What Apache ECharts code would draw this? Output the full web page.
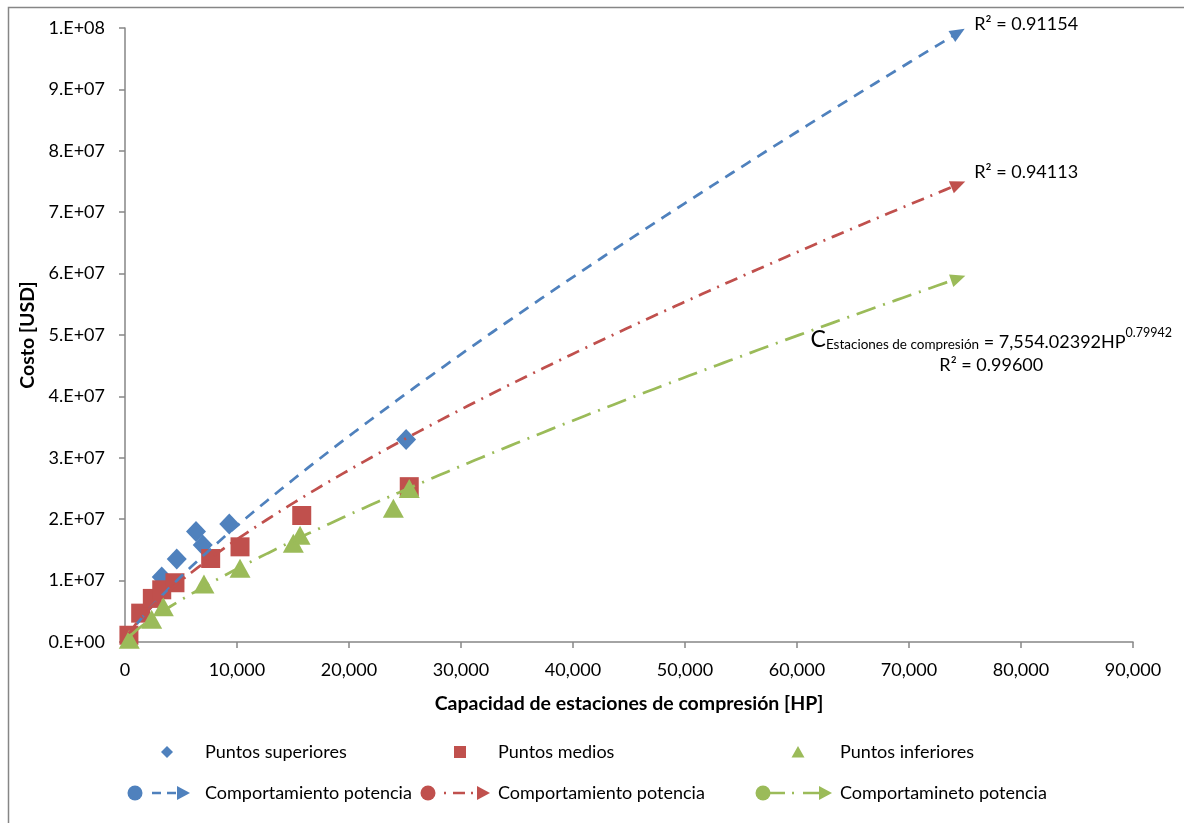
<!DOCTYPE html>
<html lang="es">
<head>
<meta charset="utf-8">
<title>Costo de estaciones de compresión</title>
<script src="https://cdn.jsdelivr.net/npm/echarts@6/dist/echarts.min.js"></script>
<style>
  html, body { margin: 0; padding: 0; background: #ffffff; }
  #chart { width: 1184px; height: 823px; }
</style>
</head>
<body>
<div id="chart"></div>
<script>
// Axis tick labels
const xTickLabels = ['0', '10,000', '20,000', '30,000', '40,000', '50,000', '60,000', '70,000', '80,000', '90,000'];
const yTickLabels = ['0.E+00', '1.E+07', '2.E+07', '3.E+07', '4.E+07', '5.E+07', '6.E+07', '7.E+07', '8.E+07', '9.E+07', '1.E+08'];

// Capacity [HP] and cost [USD] of each group of stations
const supHP   = [3280, 4620, 6340, 6940, 9310, 25100];
const supCost = [10.6e6, 13.5e6, 18.0e6, 15.8e6, 19.2e6, 33.0e6];
const medHP   = [350, 1400, 2440, 3280, 4460, 7650, 10270, 15780, 25380];
const medCost = [1.1e6, 4.7e6, 7.1e6, 8.5e6, 9.65e6, 13.6e6, 15.5e6, 20.6e6, 25.3e6];
const infHP   = [380, 2380, 3420, 7050, 10270, 15030, 15630, 23960, 25380];
const infCost = [0.44e6, 3.7e6, 5.75e6, 9.45e6, 12.0e6, 16.1e6, 17.4e6, 21.8e6, 25.0e6];

// Power trendlines C = a * HP^b (superiores, medios, inferiores), projected forward to trendToHP
const trendA = [9392, 17496, 7554.02392];
const trendB = [0.826, 0.745, 0.79942];
const trendFromHP = [1040, 350, 380];
const trendToHP = 74400;
const trendR2 = ['0.91154', '0.94113', '0.99600'];

const pointNames = ['Puntos superiores', 'Puntos medios', 'Puntos inferiores'];
const trendNames = ['Comportamiento potencia', 'Comportamiento potencia', 'Comportamineto potencia'];

// ---- styling ----
const FONT = 'Lato, "Noto Sans", sans-serif';
const GRAY = '#868686';
const COLORS = ['#4F81BD', '#C0504D', '#9BBB59'];
const MARKERS = ['diamond', 'rect', 'triangle'];
const MARKER_SIZE = [[20, 21], [19, 19], [21, 19]];
const TREND_DASH = [[11, 8], [13, 7, 2, 7], [20, 8, 2, 8]];
const LEGEND_DASH = [[9, 6], [2, 7, 12, 6], [22, 7, 2, 9]];

function zip(xs, ys) { return xs.map((x, i) => [x, ys[i]]); }

// sample the fitted power curve between its first and last capacity
function trendCurve(i, steps) {
  const pts = [];
  for (let k = 0; k <= steps; k++) {
    const hp = trendFromHP[i] + (trendToHP - trendFromHP[i]) * k / steps;
    pts.push([hp, trendA[i] * Math.pow(hp, trendB[i])]);
  }
  return pts;
}
const curves = [0, 1, 2].map(i => trendCurve(i, 120));

// last point carries the arrowhead, turned along the curve
function trendSeriesData(i, rotate) {
  const pts = curves[i];
  return pts.map((p, k) => k === pts.length - 1
    ? { value: p, symbol: 'triangle', symbolSize: [13, 15], symbolRotate: rotate,
        itemStyle: { color: COLORS[i] } }
    : p);
}

const pointData = [zip(supHP, supCost), zip(medHP, medCost), zip(infHP, infCost)];

const pointSeries = pointData.map((data, i) => ({
  name: pointNames[i],
  type: 'scatter',
  symbol: MARKERS[i],
  symbolSize: MARKER_SIZE[i],
  itemStyle: { color: COLORS[i], opacity: 1 },
  data: data,
  silent: true
}));

const trendSeries = [0, 1, 2].map(i => ({
  name: trendNames[i],
  type: 'line',
  symbol: 'none',
  showSymbol: true,
  data: trendSeriesData(i, 0),
  lineStyle: { color: COLORS[i], width: 2.75, type: TREND_DASH[i], cap: 'butt' },
  itemStyle: { color: COLORS[i] },
  silent: true
}));

const axisLine = { show: true, lineStyle: { color: GRAY, width: 1.5 } };
const axisTick = { show: true, length: 6, lineStyle: { color: GRAY, width: 1.5 } };
const titleStyle = { fontFamily: FONT, fontSize: 19.5, fontWeight: 'bold', color: '#000000' };

const option = {
  animation: false,
  backgroundColor: '#ffffff',
  textStyle: { fontFamily: FONT },
  grid: { left: 125, right: 51, top: 28, bottom: 181, containLabel: false },
  xAxis: {
    type: 'value', min: 0, max: 90000, interval: 10000,
    axisLine: axisLine, axisTick: axisTick, splitLine: { show: false },
    axisLabel: {
      formatter: v => xTickLabels[Math.round(v / 10000)],
      fontFamily: FONT, fontSize: 18, color: '#000000', margin: 19
    },
    name: 'Capacidad de estaciones de compresión [HP]',
    nameLocation: 'middle', nameGap: 52,
    nameTextStyle: titleStyle
  },
  yAxis: {
    type: 'value', min: 0, max: 1e8, interval: 1e7,
    axisLine: axisLine, axisTick: axisTick, splitLine: { show: false },
    axisLabel: {
      formatter: v => yTickLabels[Math.round(v / 1e7)],
      fontFamily: FONT, fontSize: 18, color: '#000000', margin: 20
    },
    name: 'Costo [USD]',
    nameLocation: 'middle', nameGap: 86, nameRotate: 90,
    nameTextStyle: titleStyle
  },
  series: pointSeries.concat(trendSeries)
};

const chart = echarts.init(document.getElementById('chart'), null, { renderer: 'canvas' });
chart.setOption(option);

// ---- legend (two rows, Excel style) ----
const textLeft = [205, 498, 840];
const row1Y = 752, row2Y = 793;
const row1IconX = [167, 460, 798];
const row2CircleX = [135, 428, 763];
const row2LineFrom = [152, 444, 763];
const row2ArrowTip = [190, 490, 832];

function legendText(id, txt, x, y) {
  return { type: 'text', id: id, x: x, y: y, silent: true,
    style: { text: txt, fill: '#000000', font: '18px ' + FONT, align: 'left', verticalAlign: 'middle' } };
}

const graphic = [];
// outer chart frame
graphic.push({ type: 'rect', id: 'frame', z: -10, silent: true,
  shape: { x: 8.5, y: 7.5, width: 1300, height: 900 },
  style: { fill: 'none', stroke: GRAY, lineWidth: 1.5 } });

for (let i = 0; i < 3; i++) {
  const cx = row1IconX[i], cy = row1Y, c = COLORS[i];
  if (MARKERS[i] === 'diamond') {
    graphic.push({ type: 'polygon', id: 'lm' + i, silent: true,
      shape: { points: [[cx, cy - 6], [cx + 6, cy], [cx, cy + 6], [cx - 6, cy]] }, style: { fill: c } });
  } else if (MARKERS[i] === 'rect') {
    graphic.push({ type: 'rect', id: 'lm' + i, silent: true,
      shape: { x: cx - 6, y: cy - 6, width: 12, height: 12 }, style: { fill: c } });
  } else {
    graphic.push({ type: 'polygon', id: 'lm' + i, silent: true,
      shape: { points: [[cx, cy - 6], [cx + 6.5, cy + 5.5], [cx - 6.5, cy + 5.5]] }, style: { fill: c } });
  }
  graphic.push(legendText('lt' + i, pointNames[i], textLeft[i], row1Y));

  const tip = row2ArrowTip[i];
  graphic.push({ type: 'line', id: 'll' + i, silent: true,
    shape: { x1: row2LineFrom[i], y1: row2Y, x2: tip - 12, y2: row2Y },
    style: { stroke: c, lineWidth: 2.5, lineDash: LEGEND_DASH[i], lineCap: 'butt' } });
  graphic.push({ type: 'circle', id: 'lc' + i, silent: true,
    shape: { cx: row2CircleX[i], cy: row2Y, r: 7.5 }, style: { fill: c } });
  graphic.push({ type: 'polygon', id: 'la' + i, silent: true,
    shape: { points: [[tip - 13, row2Y - 7], [tip, row2Y], [tip - 13, row2Y + 7]] }, style: { fill: c } });
  graphic.push(legendText('ltt' + i, trendNames[i], textLeft[i], row2Y));
}

// ---- arrowheads and R² labels at the end of each trendline ----
const seriesUpdate = [{}, {}, {}];
const labelOffset = [[16, -8], [16, -12]];
curves.forEach((pts, i) => {
  const a = chart.convertToPixel({ gridIndex: 0 }, pts[pts.length - 2]);
  const b = chart.convertToPixel({ gridIndex: 0 }, pts[pts.length - 1]);
  const angle = Math.atan2(a[1] - b[1], b[0] - a[0]) * 180 / Math.PI;
  seriesUpdate.push({ data: trendSeriesData(i, angle - 90) });

  if (i < 2) {
    graphic.push({ type: 'text', id: 'r2_' + i, silent: true,
      x: b[0] + labelOffset[i][0], y: b[1] + labelOffset[i][1],
      style: { text: 'R² = ' + trendR2[i], fill: '#000000', font: '18px ' + FONT,
        align: 'left', verticalAlign: 'middle' } });
  } else {
    const eq = '{big|C}{sub|Estaciones de compresión}{txt| = ' +
      trendA[i].toLocaleString('en-US', { maximumFractionDigits: 5 }) +
      'HP}{sup|' + trendB[i] + '}\n{txt2|R² = ' + trendR2[i] + '}';
    graphic.push({ type: 'text', id: 'eq', silent: true,
      x: b[0] + 33, y: b[1] + 47,
      style: {
        text: eq, fill: '#000000', fontFamily: FONT, fontSize: 18,
        align: 'center', verticalAlign: 'top',
        rich: {
          big: { fontSize: 23, fontFamily: FONT, lineHeight: 26, verticalAlign: 'bottom' },
          sub: { fontSize: 13.5, fontFamily: FONT, lineHeight: 11, verticalAlign: 'bottom' },
          txt: { fontSize: 18, fontFamily: FONT, lineHeight: 23, verticalAlign: 'bottom' },
          sup: { fontSize: 12.5, fontFamily: FONT, verticalAlign: 'top', padding: [1, 0, 0, 0] },
          txt2: { fontSize: 18, fontFamily: FONT, lineHeight: 28 }
        }
      } });
  }
});

chart.setOption({ series: seriesUpdate, graphic: graphic });
</script>
</body>
</html>
